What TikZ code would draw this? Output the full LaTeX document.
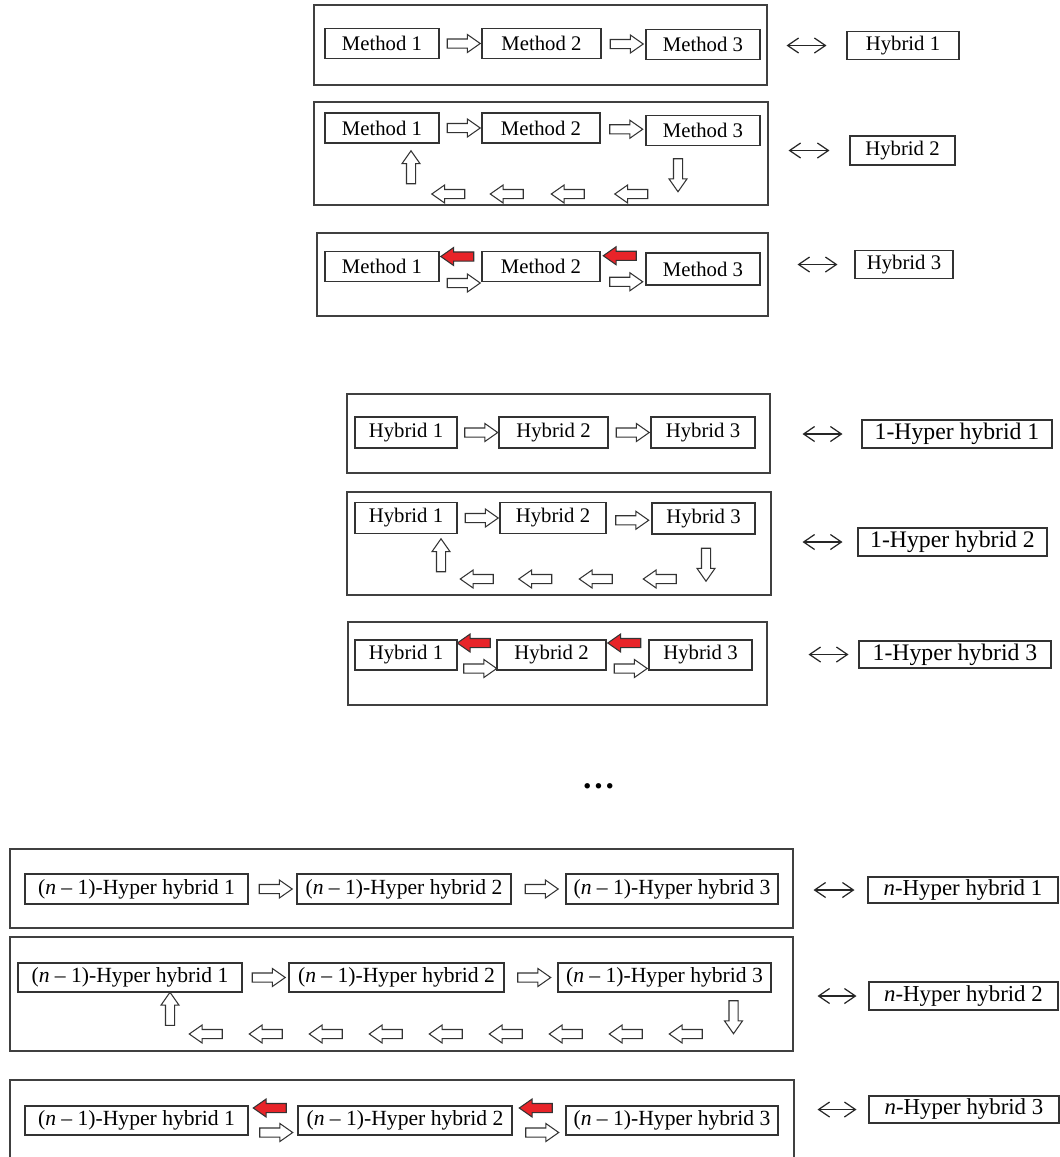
\documentclass[tikz,border=0pt]{standalone}
\usepackage{fontspec}
\setmainfont{Liberation Serif}
\usetikzlibrary{shapes.arrows, arrows.meta, fit, calc}
\definecolor{backred}{RGB}{232,36,41}

\begin{document}
\begin{tikzpicture}[
  x=0.02cm, y=-0.02cm,
  frame/.style={draw=black!75, line width=0.6pt, inner sep=0pt},
  box/.style={draw=black!80, line width=0.6pt, inner sep=0pt, minimum height=0.6cm, font=\fontsize{11.8}{14}\selectfont},
  nbox/.style={box, font=\fontsize{12.3}{14}\selectfont},
  res/.style={box, minimum height=0.55cm},
  hypres/.style={res, font=\fontsize{13.5}{15}\selectfont},
  nres/.style={res, font=\fontsize{13}{15}\selectfont},
  blk/.style={single arrow, draw=black!80, line width=0.6pt, fill=white, inner xsep=0pt, inner ysep=0.08cm,
    text height=0pt, text depth=0pt, minimum height=0.66cm,
    single arrow head extend=0.09cm, single arrow tip angle=70},
  redblk/.style={blk, fill=backred},
  link/.style={{Straight Barb[length=0.22cm,width=0.3cm]}-{Straight Barb[length=0.22cm,width=0.3cm]}, line width=0.7pt, black!85}
]
\useasboundingbox (0,0) rectangle (1060,1157);

% methods -> hybrids
\node[frame, fit={(314,5) (767,85)}] (methSeq) {};
\node[box, minimum width=2.28cm] (mS1) at (382,43.5) {Method 1};
\node[box, minimum width=2.38cm] (mS2) at (541.5,43.5) {Method 2};
\node[box, minimum width=2.28cm] (mS3) at (703,44.5) {Method 3};
\node[blk] (aS1) at ($(mS1.east)!.5!(mS2.west)$) {};
\node[blk] (aS2) at ($(mS2.east)!.5!(mS3.west)$) {};
\node[res, minimum width=2.24cm] (hyb1) at (903,45.5) {Hybrid 1};
\draw[link, shorten <=0.38cm, shorten >=0.4cm] (methSeq.east |- hyb1.west) -- (hyb1.west);

\node[frame, fit={(314,102) (768,205)}] (methLoop) {};
\node[box, minimum width=2.28cm] (mL1) at (382,128) {Method 1};
\node[box, minimum width=2.36cm] (mL2) at (541,128) {Method 2};
\node[box, minimum width=2.28cm] (mL3) at (703,130.5) {Method 3};
\node[blk] (aL1) at ($(mL1.east)!.5!(mL2.west)$) {};
\node[blk] (aL2) at ($(mL2.east)!.5!(mL3.west)$) {};
\node[blk, rotate=90] (upL) at (411,170.5) {};
\node[blk, rotate=-90] (downL) at (678,172) {};
\foreach \x [count=\i] in {451.5, 510, 571, 634.5}
  \node[blk, rotate=180] (backL\i) at (\x,194) {};
\node[res, minimum width=2.1cm, minimum height=0.58cm] (hyb2) at (902.5,150.5) {Hybrid 2};
\draw[link, shorten <=0.4cm, shorten >=0.4cm] (methLoop.east |- hyb2.west) -- (hyb2.west);

\node[frame, fit={(317,233) (768,316)}] (methBack) {};
\node[box, minimum width=2.28cm] (mB1) at (382,266.5) {Method 1};
\node[box, minimum width=2.36cm] (mB2) at (541,266.5) {Method 2};
\node[box, minimum width=2.28cm, minimum height=0.64cm] (mB3) at (703,269) {Method 3};
\node[redblk, rotate=180] (rB1) at ($(mB1.east)!.5!(mB2.west) + (0,-10)$) {};
\node[blk] (aB1) at ($(mB1.east)!.5!(mB2.west) + (0,16.5)$) {};
\node[redblk, rotate=180] (rB2) at ($(mB2.east)!.5!(mB3.west) + (0,-12)$) {};
\node[blk] (aB2) at ($(mB2.east)!.5!(mB3.west) + (0,14)$) {};
\node[res, minimum width=1.96cm] (hyb3) at (904,264.5) {Hybrid 3};
\draw[link, shorten <=0.58cm, shorten >=0.34cm] (methBack.east |- hyb3.west) -- (hyb3.west);

% hybrids -> 1-hyper hybrids
\node[frame, fit={(347,394) (770,473)}] (hybSeq) {};
\node[box, minimum width=2.04cm, minimum height=0.62cm] (hS1) at (406,432.5) {Hybrid 1};
\node[box, minimum width=2.18cm, minimum height=0.62cm] (hS2) at (553.5,432.5) {Hybrid 2};
\node[box, minimum width=2.08cm, minimum height=0.62cm] (hS3) at (703,432.5) {Hybrid 3};
\node[blk] (bS1) at ($(hS1.east)!.5!(hS2.west)$) {};
\node[blk] (bS2) at ($(hS2.east)!.5!(hS3.west)$) {};
\node[hypres, minimum width=3.8cm, minimum height=0.56cm] (hyp1) at (957,434) {1-Hyper hybrid 1};
\draw[link, shorten <=0.64cm, shorten >=0.38cm] (hybSeq.east |- hyp1.west) -- (hyp1.west);

\node[frame, fit={(347,492) (771,595)}] (hybLoop) {};
\node[box, minimum width=2.04cm, minimum height=0.62cm] (hL1) at (406,518) {Hybrid 1};
\node[box, minimum width=2.12cm, minimum height=0.62cm] (hL2) at (553,518) {Hybrid 2};
\node[box, minimum width=2.06cm, minimum height=0.62cm] (hL3) at (703.5,518.5) {Hybrid 3};
\node[blk] (bL1) at ($(hL1.east)!.5!(hL2.west)$) {};
\node[blk] (bL2) at ($(hL2.east)!.5!(hL3.west) + (0,2)$) {};
\node[blk, rotate=90] (upH) at (441,558.5) {};
\node[blk, rotate=-90] (downH) at (706,561.5) {};
\foreach \x [count=\i] in {480, 538.5, 599, 663}
  \node[blk, rotate=180] (backH\i) at (\x,579) {};
\node[hypres, minimum width=3.78cm, minimum height=0.56cm] (hyp2) at (952.5,542) {1-Hyper hybrid 2};
\draw[link, shorten <=0.62cm, shorten >=0.3cm] (hybLoop.east |- hyp2.west) -- (hyp2.west);

\node[frame, fit={(348,622) (767,705)}] (hybBack) {};
\node[box, minimum width=2.04cm] (hB1) at (406,655) {Hybrid 1};
\node[box, minimum width=2.18cm] (hB2) at (551.5,655) {Hybrid 2};
\node[box, minimum width=2.06cm] (hB3) at (700.5,655) {Hybrid 3};
\node[redblk, rotate=180] (rH1) at ($(hB1.east)!.5!(hB2.west) + (0,-12)$) {};
\node[blk] (cB1) at ($(hB1.east)!.5!(hB2.west) + (0,13.5)$) {};
\node[redblk, rotate=180] (rH2) at ($(hB2.east)!.5!(hB3.west) + (0,-12)$) {};
\node[blk] (cB2) at ($(hB2.east)!.5!(hB3.west) + (0,13.5)$) {};
\node[hypres, minimum width=3.84cm, minimum height=0.54cm] (hyp3) at (955,654.5) {1-Hyper hybrid 3};
\draw[link, shorten <=0.82cm, shorten >=0.2cm] (hybBack.east |- hyp3.west) -- (hyp3.west);

\node[font=\fontsize{19}{20}\selectfont\bfseries] (more) at (598.5,786) {…};

% (n-1)-hyper hybrids -> n-hyper hybrids
\node[frame, fit={(10,849) (793,928)}] (nSeq) {};
\node[nbox, minimum width=4.46cm] (nS1) at (136.5,889) {(\textit{n} -- 1)-Hyper hybrid 1};
\node[nbox, minimum width=4.28cm] (nS2) at (404,889) {(\textit{n} -- 1)-Hyper hybrid 2};
\node[nbox, minimum width=4.24cm] (nS3) at (672,889) {(\textit{n} -- 1)-Hyper hybrid 3};
\node[blk] (dS1) at ($(nS1.east)!.5!(nS2.west)$) {};
\node[blk] (dS2) at ($(nS2.east)!.5!(nS3.west)$) {};
\node[nres, minimum width=3.8cm, minimum height=0.52cm] (nhyp1) at (963,890) {\textit{n}-Hyper hybrid 1};
\draw[link, shorten <=0.4cm, shorten >=0.26cm] (nSeq.east |- nhyp1.west) -- (nhyp1.west);

\node[frame, fit={(10,937) (793,1051)}] (nLoop) {};
\node[nbox, minimum width=4.48cm, minimum height=0.58cm] (nL1) at (130,977.5) {(\textit{n} -- 1)-Hyper hybrid 1};
\node[nbox, minimum width=4.3cm, minimum height=0.58cm] (nL2) at (396.5,977.5) {(\textit{n} -- 1)-Hyper hybrid 2};
\node[nbox, minimum width=4.26cm, minimum height=0.58cm] (nL3) at (664.5,977.5) {(\textit{n} -- 1)-Hyper hybrid 3};
\node[blk] (dL1) at ($(nL1.east)!.5!(nL2.west)$) {};
\node[blk] (dL2) at ($(nL2.east)!.5!(nL3.west)$) {};
\node[blk, rotate=90] (upN) at (170,1012) {};
\node[blk, rotate=-90] (downN) at (733.5,1014) {};
\foreach \i in {0,...,8}
  \node[blk, rotate=180] (backN\i) at (209+60*\i,1034) {};
\node[nres, minimum width=3.78cm, minimum height=0.56cm] (nhyp2) at (963.5,996) {\textit{n}-Hyper hybrid 2};
\draw[link, shorten <=0.48cm, shorten >=0.24cm] (nLoop.east |- nhyp2.west) -- (nhyp2.west);

\node[frame, fit={(10,1080) (794,1165)}] (nBack) {};
\node[nbox, minimum width=4.46cm, minimum height=0.58cm] (nB1) at (136.5,1120.5) {(\textit{n} -- 1)-Hyper hybrid 1};
\node[nbox, minimum width=4.28cm, minimum height=0.58cm] (nB2) at (405,1120.5) {(\textit{n} -- 1)-Hyper hybrid 2};
\node[nbox, minimum width=4.24cm, minimum height=0.58cm] (nB3) at (672,1120.5) {(\textit{n} -- 1)-Hyper hybrid 3};
\node[redblk, rotate=180] (rN1) at ($(nB1.east)!.5!(nB2.west) + (0,-12.5)$) {};
\node[blk] (eB1) at ($(nB1.east)!.5!(nB2.west) + (0,12)$) {};
\node[redblk, rotate=180] (rN2) at ($(nB2.east)!.5!(nB3.west) + (0,-12.5)$) {};
\node[blk] (eB2) at ($(nB2.east)!.5!(nB3.west) + (0,12)$) {};
\node[nres, minimum width=3.8cm, minimum height=0.54cm] (nhyp3) at (964,1109.5) {\textit{n}-Hyper hybrid 3};
\draw[link, shorten <=0.46cm, shorten >=0.24cm] (nBack.east |- nhyp3.west) -- (nhyp3.west);
\end{tikzpicture}
\end{document}
